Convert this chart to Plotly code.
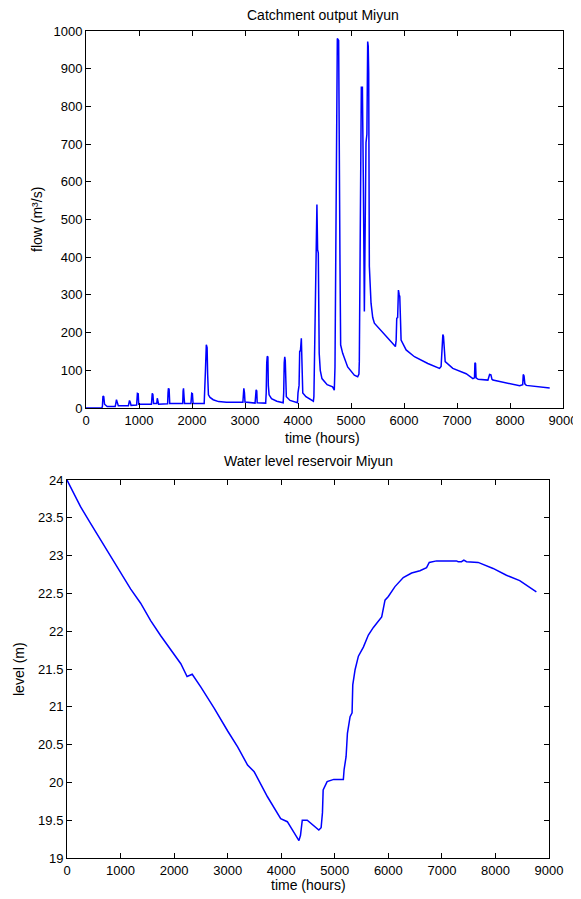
import plotly.graph_objects as go

# ---- Catchment output (flow, m3/s) ----
flow_hours = [0, 300, 310, 320, 335, 350, 400, 550, 560, 575, 590, 610, 800, 810, 821, 835, 850,
              955, 962, 970, 985, 995, 1235, 1242, 1250, 1262, 1275, 1335, 1345, 1355, 1370,
              1540, 1548, 1555, 1568, 1580, 1825, 1832, 1840, 1850, 1860, 1980, 1988, 1995, 2008, 2020,
              2230, 2240, 2255, 2270, 2285, 2295, 2310, 2340, 2400, 2500, 2650, 2960, 2970, 2978, 2990, 3000,
              3190, 3198, 3210, 3222, 3230, 3390, 3400, 3410, 3420, 3432, 3440, 3455, 3500, 3600,
              3720, 3730, 3740, 3750, 3760, 3768, 3780, 3850, 3990, 4000, 4020, 4032, 4045, 4063, 4075, 4090,
              4150, 4250, 4290, 4300, 4307, 4320, 4339, 4345, 4357, 4370, 4383, 4400, 4420, 4452, 4550, 4653,
              4685, 4698, 4708, 4716, 4730, 4742, 4767, 4774, 4780, 4792, 4805, 4843, 4937, 5063, 5126,
              5150, 5157, 5163, 5176, 5195, 5215, 5222, 5233, 5252, 5262, 5283, 5300, 5315, 5325, 5334,
              5346, 5378, 5410, 5441, 5535, 5700, 5838, 5852, 5863, 5880, 5895, 5910, 5920, 5935, 5945,
              6040, 6197, 6449, 6670, 6700, 6715, 6725, 6733, 6745, 6760, 6777, 6921, 7173, 7300, 7330,
              7338, 7350, 7360, 7400, 7583, 7600, 7615, 7640, 7660, 7678, 7993, 8182, 8240, 8250, 8265,
              8280, 8308, 8560, 8749]
flow_values = [0, 0, 5, 32, 30, 10, 4, 4, 10, 22, 15, 6, 6, 12, 20, 15, 7,
               8, 30, 39, 38, 10, 10, 30, 39, 36, 12, 12, 26, 20, 10,
               11, 40, 52, 50, 12, 12, 45, 52, 30, 12, 12, 30, 39, 38, 12,
               12, 40, 104, 168, 160, 90, 35, 28, 22, 17, 15, 15, 30, 52, 40, 16,
               13, 45, 48, 45, 14, 13, 40, 120, 137, 135, 60, 35, 25, 18,
               14, 40, 120, 136, 125, 60, 30, 20, 14, 40, 60, 152, 150, 185, 100, 40,
               30, 20, 18, 30, 109, 269, 465, 460, 540, 420, 411, 145, 100, 78, 62, 56,
               47, 109, 278, 598, 611, 980, 975, 600, 411, 385, 167, 145, 109, 87, 83,
               90, 123, 305, 642, 851, 851, 624, 600, 256, 500, 704, 726, 972, 960, 891,
               376, 278, 240, 225, 211, 185, 163, 180, 238, 240, 313, 300, 296, 230, 180,
               154, 136, 118, 105, 110, 160, 158, 195, 190, 140, 123, 105, 91, 78, 80,
               120, 118, 80, 76, 74, 82, 89, 88, 76, 74, 65, 59, 62, 89, 85,
               64, 60, 56, 53]

# ---- Water level reservoir (m) ----
level_hours = [0, 156, 250, 437, 625, 812, 1000, 1187, 1375, 1562, 1750, 1937, 2125, 2242, 2300, 2338,
               2500, 2750, 3000, 3186, 3371, 3495, 3743, 3990, 4114, 4269, 4331, 4360, 4393, 4486,
               4702, 4745, 4770, 4783, 4857, 4981, 5160, 5174, 5211, 5236, 5286, 5323, 5336, 5379,
               5441, 5534, 5627, 5721, 5876, 5938, 6000, 6124, 6279, 6435, 6590, 6714, 6764, 6900,
               7273, 7304, 7366, 7410, 7460, 7677, 7956, 8205, 8453, 8764]
level_values = [24.0, 23.78, 23.65, 23.43, 23.21, 23.01, 22.79, 22.56, 22.37, 22.14, 21.94, 21.75, 21.57,
                21.40, 21.42, 21.43, 21.26, 20.98, 20.68, 20.47, 20.23, 20.14, 19.81, 19.52, 19.48,
                19.30, 19.23, 19.30, 19.50, 19.50, 19.37, 19.40, 19.60, 19.90, 20.01, 20.04, 20.04,
                20.17, 20.34, 20.65, 20.87, 20.92, 21.29, 21.49, 21.67, 21.79, 21.95, 22.05, 22.19,
                22.41, 22.46, 22.59, 22.71, 22.77, 22.80, 22.84, 22.91, 22.93, 22.93, 22.92, 22.92,
                22.94, 22.92, 22.91, 22.83, 22.74, 22.67, 22.52]

# The page places the figure 8 px from the top-left corner of the window.
OFF = 8
W, H = 581 - OFF, 899 - OFF
FONT = "Liberation Sans, Arial, sans-serif"


def px(x):
    return (x - OFF) / W


def py(y):
    return 1 - (y - OFF) / H


fig = go.Figure()
fig.add_trace(go.Scatter(x=flow_hours, y=flow_values, mode="lines",
                         line=dict(color="#0000ff", width=1.5), xaxis="x", yaxis="y",
                         showlegend=False))
fig.add_trace(go.Scatter(x=level_hours, y=level_values, mode="lines",
                         line=dict(color="#0000ff", width=1.5), xaxis="x2", yaxis="y2",
                         showlegend=False))

axis_style = dict(showline=True, linecolor="black", linewidth=1, mirror="ticks",
                  ticks="inside", ticklen=5, tickcolor="black", tickwidth=1, showgrid=False,
                  zeroline=False, automargin=False,
                  tickfont=dict(family=FONT, size=13, color="black"))


def label(text, x, y, angle=0):
    return dict(text=text, x=px(x), y=py(y), xref="paper", yref="paper",
                xanchor="center", yanchor="middle", showarrow=False, textangle=angle,
                font=dict(family=FONT, size=14, color="black"))


fig.update_layout(
    template="none",
    width=W, height=H, autosize=False,
    margin=dict(l=0, r=0, t=0, b=0, pad=0),
    paper_bgcolor="white", plot_bgcolor="white",
    font=dict(family=FONT, size=13, color="black"),
    xaxis=dict(domain=[px(86), px(563)], range=[0, 9000], dtick=1000, anchor="y", **axis_style),
    yaxis=dict(domain=[py(408), py(31)], range=[0, 1000], dtick=100, anchor="x", **axis_style),
    xaxis2=dict(domain=[px(67), px(549)], range=[0, 9000], dtick=1000, anchor="y2", **axis_style),
    yaxis2=dict(domain=[py(858), py(480)], range=[19, 24], dtick=0.5, anchor="x2", **axis_style),
    annotations=[
        label("Catchment output Miyun", 323, 15),
        label("time (hours)", 322, 438),
        label("flow (m³/s)", 37, 220, -90),
        label("Water level reservoir Miyun", 308, 461),
        label("time (hours)", 308, 885),
        label("level (m)", 19, 669, -90),
    ],
)

fig.write_html("out.html")
